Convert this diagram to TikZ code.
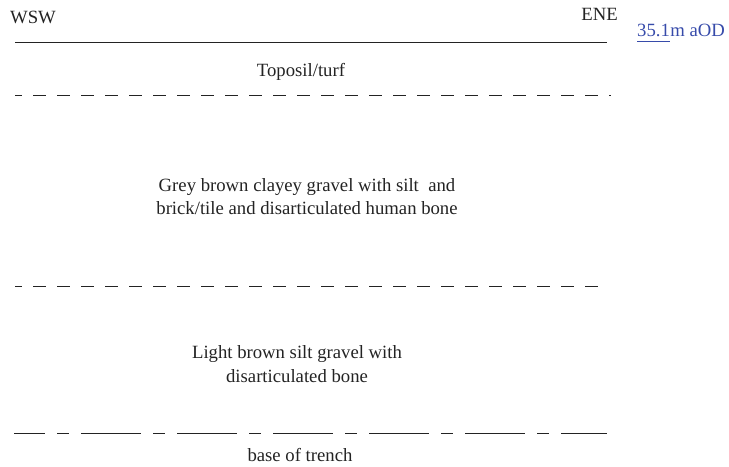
\documentclass[tikz,border=0pt]{standalone}
\usepackage{fontspec}
\setmainfont{Liberation Serif}
\definecolor{txt}{RGB}{35,35,35}
\definecolor{od}{RGB}{55,75,170}
\begin{document}
\begin{tikzpicture}[x=1bp,y=-1bp,
  lbl/.style={inner sep=0pt,font=\fontsize{18.7bp}{23bp}\selectfont,text=txt},
  bluelbl/.style={inner sep=0pt,font=\fontsize{18.7bp}{23bp}\selectfont,text=od},
  layerline/.style={line width=1bp,draw=txt,dash pattern=on 13bp off 11bp},
  baseline/.style={line width=1bp,draw=txt,dash pattern=on 60bp off 12bp on 12bp off 12bp,dash phase=29bp},
  ground/.style={line width=1bp,draw=txt}]
\useasboundingbox (0,0) rectangle (729,467);
% labels
\node[lbl,anchor=base west] (wsw) at (10,24) {WSW};
\node[lbl,anchor=base east] (ene) at (618,21) {ENE};
\node[bluelbl,anchor=base west] (od1) at (637,37) {35.1};
\node[bluelbl,anchor=base west] (od2) at (od1.base east) {m aOD};
\draw[od,line width=1bp] ([yshift=-5bp]od1.base west) -- ([yshift=-5bp]od1.base east);
% lines
\coordinate (g1) at (15,43); \coordinate (g2) at (607,43);
\draw[ground] (g1) -- (g2);
\coordinate (d1) at (15,96); \coordinate (d2) at (611,96);
\draw[layerline,dash phase=6bp] (d1) -- (d2);
\coordinate (e1) at (15,287); \coordinate (e2) at (598,287);
\draw[layerline,dash phase=6bp] (e1) -- (e2);
\coordinate (b1) at (14,433); \coordinate (b2) at (607,433);
\draw[baseline] (b1) -- (b2);
% layer texts
\node[lbl,anchor=base] (topsoil) at (301,77) {Toposil/turf};
\node[lbl,anchor=base] (grey1) at (307,192) {Grey brown clayey gravel with silt\ \ and};
\node[lbl,anchor=base] (grey2) at (307,215) {brick/tile and disarticulated human bone};
\node[lbl,anchor=base] (light1) at (297,359) {Light brown silt gravel with};
\node[lbl,anchor=base] (light2) at (297,382) {disarticulated bone};
\node[lbl,anchor=base] (base) at (300,461) {base of trench};
\end{tikzpicture}
\end{document}
